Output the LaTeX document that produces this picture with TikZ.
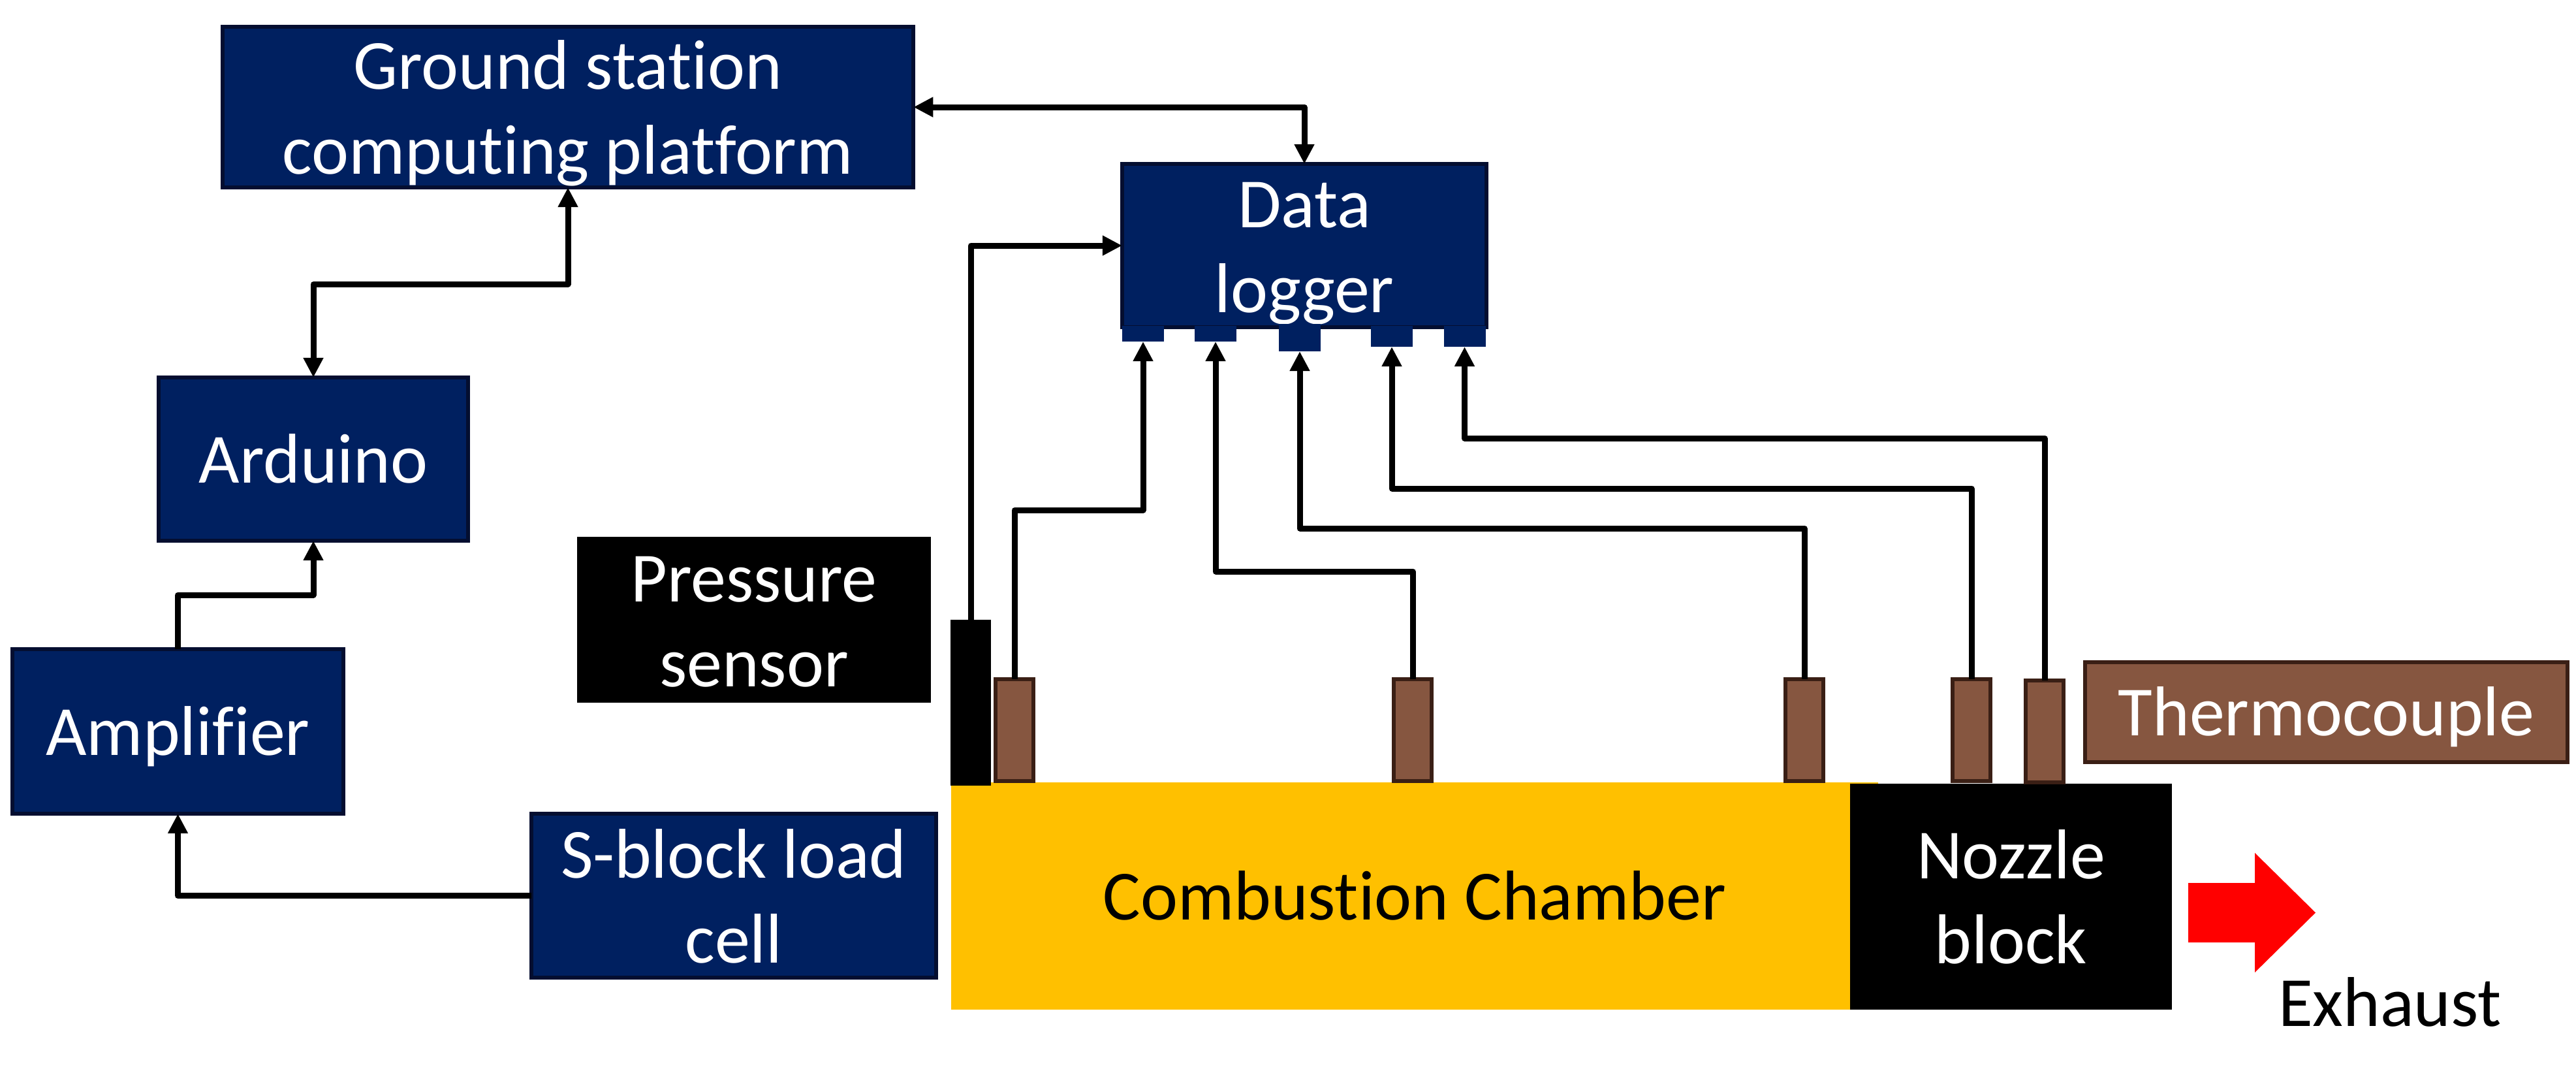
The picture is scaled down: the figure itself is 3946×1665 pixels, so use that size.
\documentclass[tikz,border=0pt]{standalone}
\usepackage{fontspec}
\setmainfont{Carlito}[Ligatures=NoCommon]
\usetikzlibrary{arrows.meta}
\definecolor{navy}{RGB}{0,32,96}
\definecolor{navyedge}{RGB}{4,14,48}
\definecolor{tcbrown}{RGB}{134,86,64}
\definecolor{tcedge}{RGB}{58,31,21}
\definecolor{chamberyellow}{RGB}{255,192,0}
\newcommand{\twol}[2]{\begin{tabular}[t]{@{}c@{}}#1\\#2\end{tabular}}
\tikzset{
  basetext/.style={font=\fontsize{30.7pt}{37.1pt}\selectfont, inner sep=0pt, outer sep=0pt},
  navybox/.style={basetext, rectangle, fill=navy, draw=navyedge, line width=0.06cm, text=white},
  blackbox/.style={basetext, rectangle, fill=black, text=white},
  oneline/.style={text height=0.72cm, text depth=0cm},
  twoline/.style={text height=0cm, text depth=0.55cm},
  tcbox/.style={rectangle, fill=tcbrown, draw=tcedge, line width=0.06cm, minimum width=0.58cm, minimum height=1.56cm, inner sep=0pt, outer sep=0pt},
  portbox/.style={rectangle, fill=navy, inner sep=0pt, outer sep=0pt, minimum width=0.64cm},
  wire/.style={line width=0.09cm, line join=round},
  arr/.style={wire, -{Triangle[length=0.3cm,width=0.29cm]}},
  darr/.style={wire, {Triangle[length=0.3cm,width=0.29cm]}-{Triangle[length=0.3cm,width=0.29cm]}},
}
\begin{document}
\begin{tikzpicture}[x=0.01cm,y=-0.01cm]
\useasboundingbox (0,0) rectangle (3946,1665);

% left chain
\node[navybox, twoline, minimum width=10.58cm, minimum height=2.46cm] (gs) at (870,164) {\twol{Ground station}{computing platform}};
\node[navybox, oneline, minimum width=4.74cm, minimum height=2.50cm] (ard) at (480,703) {Arduino};
\node[navybox, oneline, minimum width=5.07cm, minimum height=2.52cm] (amp) at (272.5,1120) {Amplifier};
\node[navybox, twoline, minimum width=6.20cm, minimum height=2.51cm] (sb) at (1124,1371.5) {\twol{S-block load}{cell}};
\node[blackbox, twoline, minimum width=5.42cm, minimum height=2.54cm] (pl) at (1155,949) {\twol{Pressure}{sensor}};

% data logger and ports
\node[navybox, twoline, minimum width=5.58cm, minimum height=2.50cm] (dl) at (1998,376) {\twol{Data}{logger}};
\node[portbox, minimum height=0.24cm] (p1) at (1751,511) {};
\node[portbox, minimum height=0.24cm] (p2) at (1862,511) {};
\node[portbox, minimum height=0.42cm] (p3) at (1991,517) {};
\node[portbox, minimum height=0.32cm] (p4) at (2132,515) {};
\node[portbox, minimum height=0.32cm] (p5) at (2243.5,515) {};

% engine
\node[basetext, fill=chamberyellow, oneline, minimum width=14.20cm, minimum height=3.48cm] (cc) at (2167,1372) {Combustion Chamber};
\node[blackbox, twoline, minimum width=4.93cm, minimum height=3.46cm] (nz) at (3080.5,1373) {\twol{Nozzle}{block}};
\node[basetext, fill=black, minimum width=0.62cm, minimum height=2.54cm] (pb) at (1487,1076) {};

% thermocouples
\node[tcbox] (tc1) at (1554,1118) {};
\node[tcbox] (tc2) at (2164,1118) {};
\node[tcbox] (tc3) at (2764,1118) {};
\node[tcbox] (tc4) at (3020,1118) {};
\node[tcbox] (tc5) at (3132,1120) {};
\node[basetext, fill=tcbrown, draw=tcedge, line width=0.06cm, text=white, oneline, minimum width=7.39cm, minimum height=1.53cm] (tcl) at (3563.5,1090.5) {Thermocouple};

% exhaust
\fill[red] (3352,1352) -- (3454,1352) -- (3454,1306) -- (3547,1397.5) -- (3454,1489) -- (3454,1443) -- (3352,1443) -- cycle;
\node[basetext, oneline] (ex) at (3661,1535) {Exhaust};

% connectors
\draw[darr] (gs.east) -| (dl.north);
\draw[darr] (ard.north) -- (ard.north |- 0,435) -| (gs.south);
\draw[arr] (amp.north) -- (amp.north |- 0,911) -| (ard.south);
\draw[arr] (sb.west) -| (amp.south);
\draw[arr] (pb.north) |- (dl.west);
\draw[arr] (tc1.north) -- (tc1.north |- 0,781) -| (p1.south);
\draw[arr] (tc2.north) -- (tc2.north |- 0,875) -| (p2.south);
\draw[arr] (tc3.north) -- (tc3.north |- 0,809) -| (p3.south);
\draw[arr] (tc4.north) -- (tc4.north |- 0,748) -| (p4.south);
\draw[arr] (tc5.north) -- (tc5.north |- 0,671) -| (p5.south);
\end{tikzpicture}
\end{document}
